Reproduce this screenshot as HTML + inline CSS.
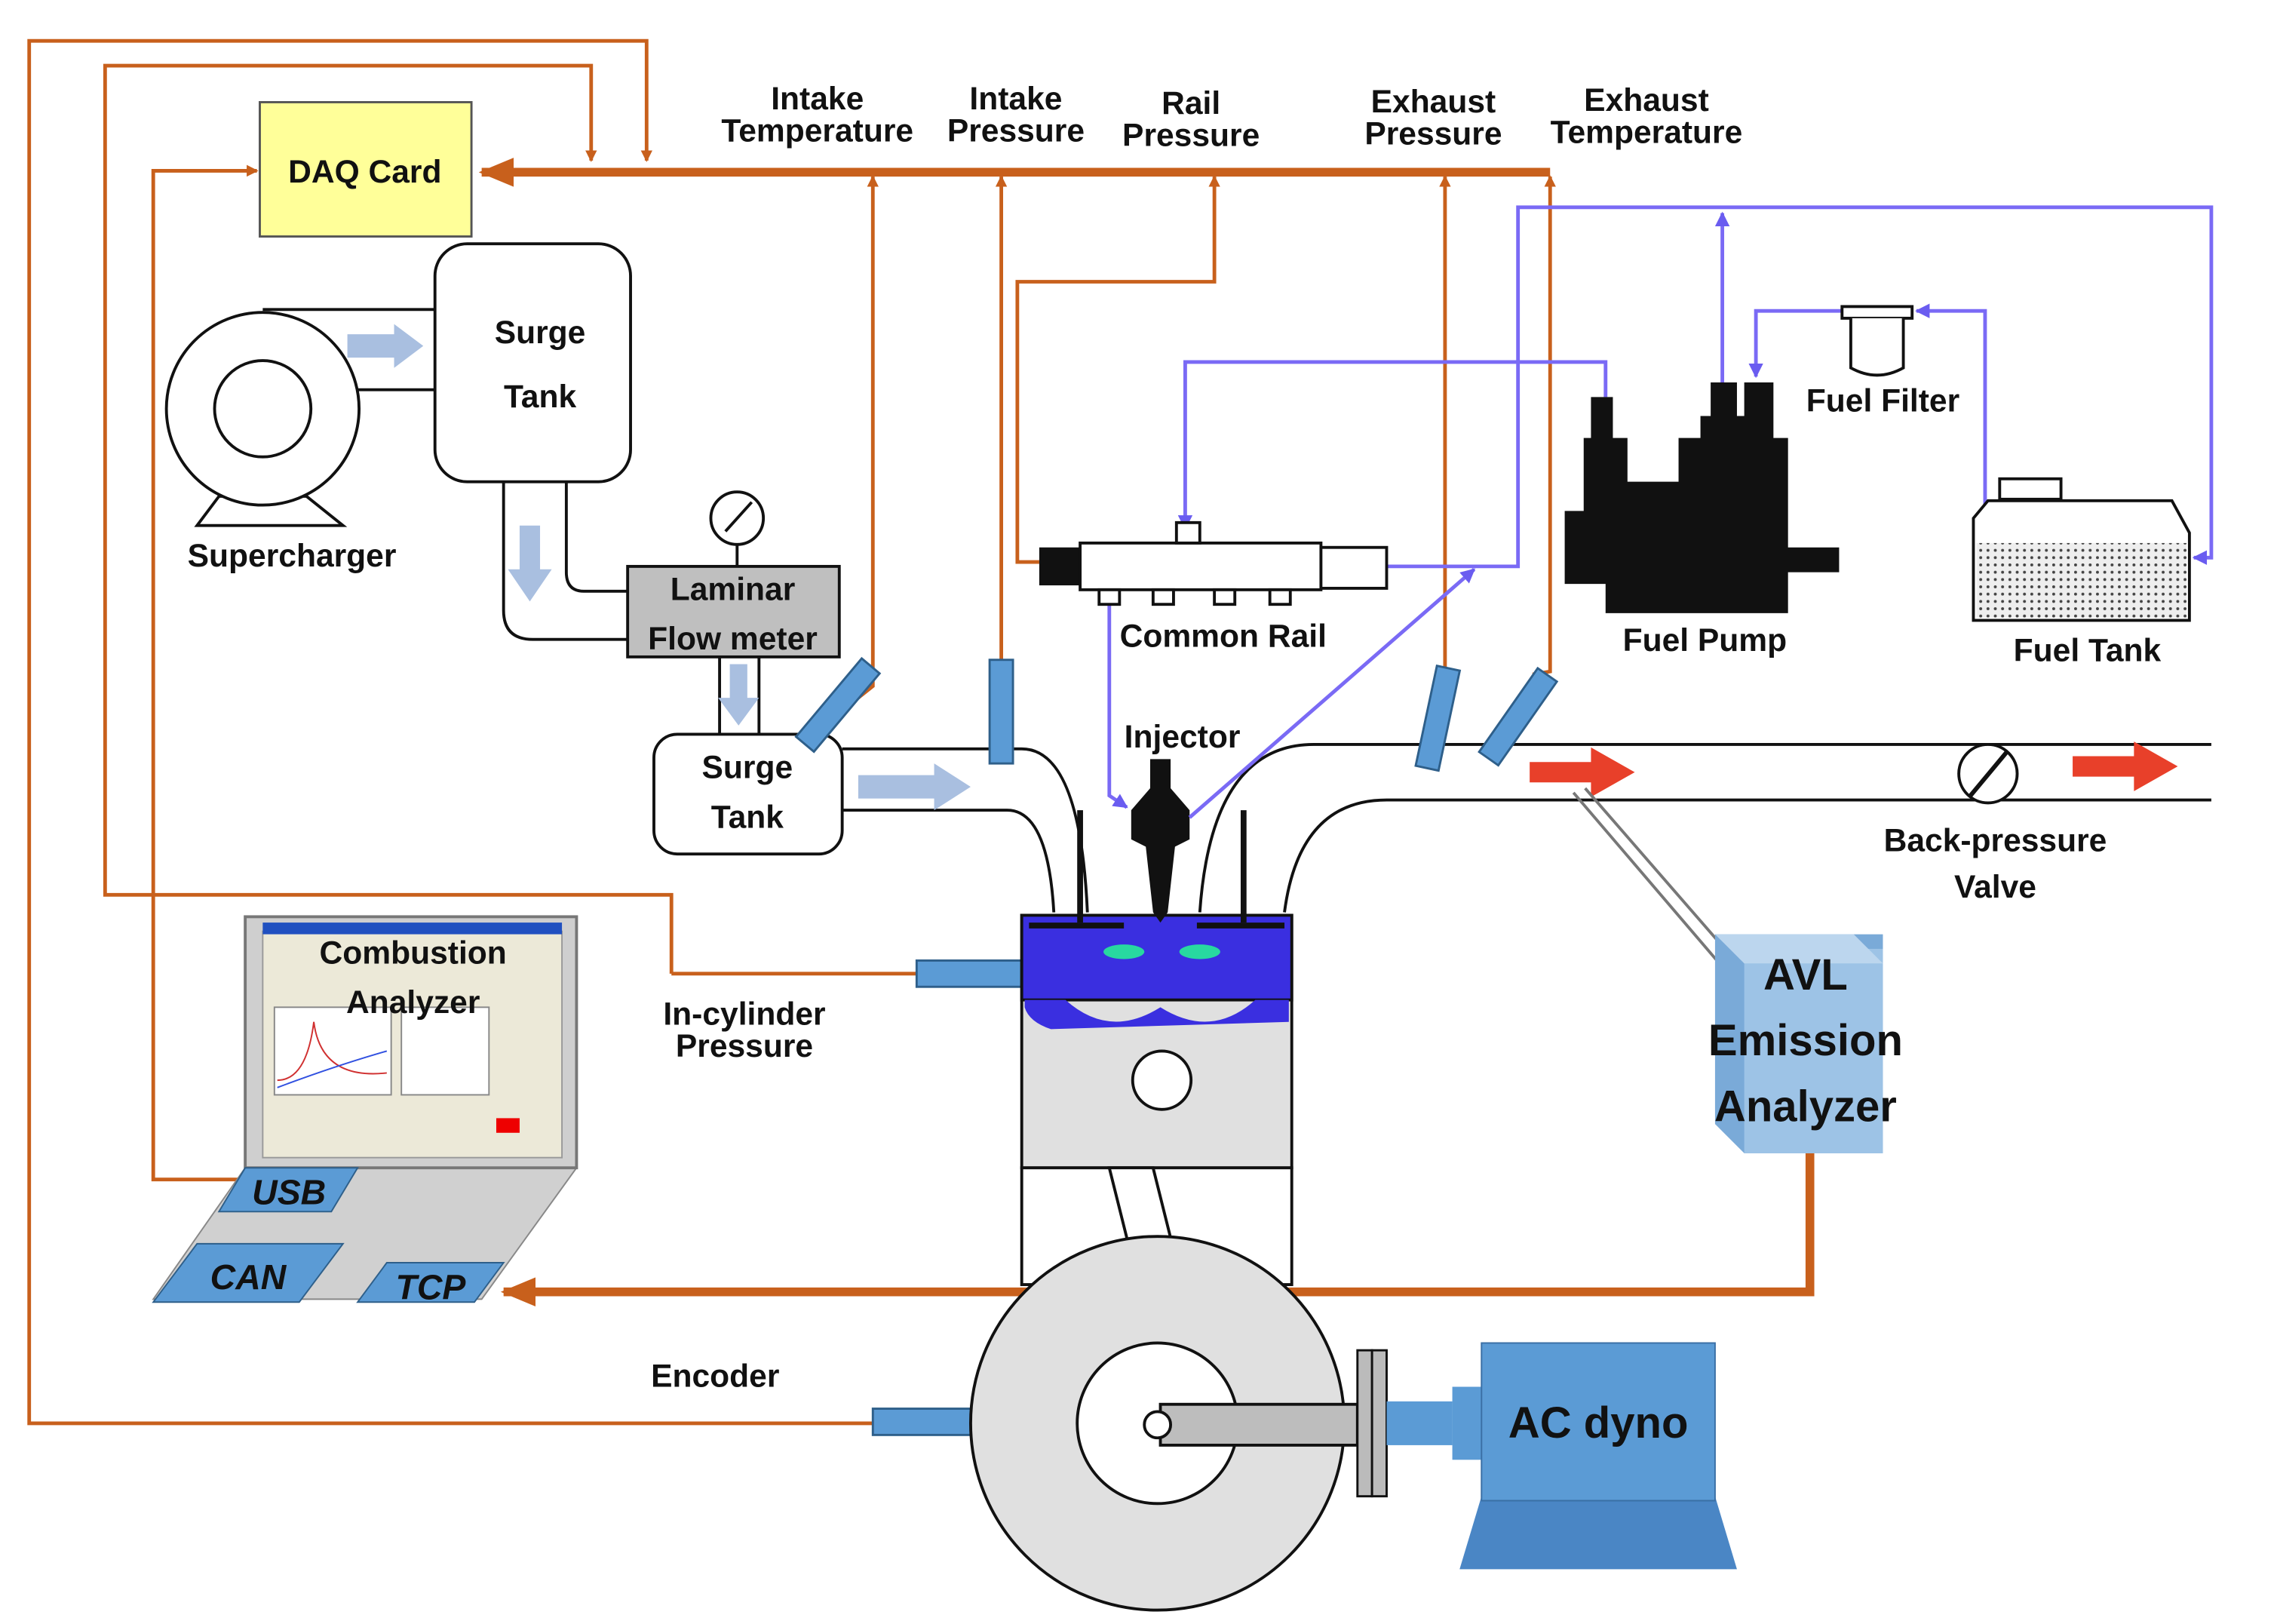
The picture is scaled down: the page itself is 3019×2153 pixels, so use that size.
<!DOCTYPE html>
<html><head><meta charset="utf-8"><style>
html,body{margin:0;padding:0;background:#fff;}
svg{display:block;}
text{font-family:"Liberation Sans",sans-serif;font-weight:bold;fill:#111;}
</style></head><body>
<svg width="3019" height="2153" viewBox="0 0 1560 1112.5" preserveAspectRatio="none" xmlns="http://www.w3.org/2000/svg">
<defs>
<marker id="ao" markerWidth="8" markerHeight="8" refX="7" refY="4" orient="auto" markerUnits="userSpaceOnUse"><path d="M0,0 L8,4 L0,8 z" fill="#c8601c"/></marker>
<marker id="aoB" markerWidth="24" markerHeight="20" refX="22" refY="10" orient="auto" markerUnits="userSpaceOnUse"><path d="M0,0 L24,10 L0,20 z" fill="#c8601c"/></marker>
<marker id="ap" markerWidth="10" markerHeight="10" refX="9" refY="5" orient="auto" markerUnits="userSpaceOnUse"><path d="M0,0 L10,5 L0,10 z" fill="#6a5cf0"/></marker>
<pattern id="dots" width="5" height="5" patternUnits="userSpaceOnUse"><rect width="5" height="5" fill="#eee"/><circle cx="2" cy="2" r="1" fill="#444"/></pattern>
</defs>
<g fill="none" stroke="#c8601c" stroke-width="2.5">
<polyline points="598,975 20,975 20,28 443,28 443,110" marker-end="url(#ao)"/>
<polyline points="460,667 460,613 72,613 72,45 405,45 405,110" marker-end="url(#ao)"/>
<line x1="460" y1="667" x2="628" y2="667"/>
<polyline points="170,808 105,808 105,117 176,117" marker-end="url(#ao)"/>
<polyline points="588,478 598,470 598,121" marker-end="url(#ao)"/>
<line x1="686" y1="455" x2="686" y2="121" marker-end="url(#ao)"/>
<polyline points="712,385 697,385 697,193 832,193 832,121" marker-end="url(#ao)"/>
<line x1="990" y1="458" x2="990" y2="121" marker-end="url(#ao)"/>
<polyline points="1050,462 1062,460 1062,121" marker-end="url(#ao)"/>
</g>
<line x1="1062" y1="118" x2="330" y2="118" stroke="#c8601c" stroke-width="6" marker-end="url(#aoB)"/>
<polyline points="1240,790 1240,885 345,885" fill="none" stroke="#c8601c" stroke-width="6" marker-end="url(#aoB)"/>
<rect x="178" y="70" width="145" height="92" fill="#ffff99" stroke="#555" stroke-width="1.5"/>
<text x="250" y="125" font-size="22" text-anchor="middle" font-weight="normal">DAQ Card</text>
<g font-size="22" text-anchor="middle">
<text x="560" y="75">Intake</text><text x="560" y="97">Temperature</text>
<text x="696" y="75">Intake</text><text x="696" y="97">Pressure</text>
<text x="816" y="78">Rail</text><text x="816" y="100">Pressure</text>
<text x="982" y="77">Exhaust</text><text x="982" y="99">Pressure</text>
<text x="1128" y="76">Exhaust</text><text x="1128" y="98">Temperature</text>
</g>
<!-- supercharger -->
<g stroke="#111" stroke-width="2" fill="#fff">
<line x1="180" y1="212" x2="300" y2="212"/><line x1="180" y1="267" x2="300" y2="267"/>
<path d="M150,340 L135,360 L235,360 L210,340 z"/>
<circle cx="180" cy="280" r="66"/><circle cx="180" cy="280" r="33"/>
<rect x="298" y="167" width="134" height="163" rx="22"/>
<path d="M345,330 L345,418 Q345,438 365,438 L432,438" fill="none"/>
<path d="M388,330 L388,392 Q388,405 400,405 L432,405" fill="none"/>
<line x1="505" y1="373" x2="505" y2="388"/>
<circle cx="505" cy="355" r="18"/><line x1="497" y1="364" x2="515" y2="344"/>
<rect x="430" y="388" width="145" height="62" fill="#bfbfbf"/>
<line x1="493" y1="450" x2="493" y2="505"/><line x1="520" y1="450" x2="520" y2="505"/>
<path d="M577,513 L700,513 Q740,513 745,625" fill="none"/>
<path d="M577,555 L690,555 Q718,555 722,625" fill="none"/>
<rect x="448" y="503" width="129" height="82" rx="16"/>
</g>
<g fill="#a9bfe0">
<path d="M238,229 L270,229 L270,222 L290,237 L270,252 L270,245 L238,245z"/>
<path d="M356,360 L370,360 L370,390 L378,390 L363,412 L348,390 L356,390z"/>
<path d="M500,455 L512,455 L512,478 L520,478 L506,497 L492,478 L500,478z"/>
<path d="M588,531 L640,531 L640,523 L665,539 L640,555 L640,547 L588,547z"/>
</g>
<g font-size="22" text-anchor="middle">
<text x="370" y="235">Surge</text><text x="370" y="279">Tank</text>
<text x="200" y="388">Supercharger</text>
<text x="502" y="411">Laminar</text><text x="502" y="445">Flow meter</text>
<text x="512" y="533">Surge</text><text x="512" y="567">Tank</text>
<text x="510" y="702">In-cylinder</text><text x="510" y="724">Pressure</text>
<text x="490" y="950">Encoder</text>
<text x="1367" y="583">Back-pressure</text><text x="1367" y="615">Valve</text>
<text x="810" y="512">Injector</text>
<text x="838" y="443">Common Rail</text>
<text x="1168" y="446">Fuel Pump</text>
<text x="1290" y="282">Fuel Filter</text>
<text x="1430" y="453">Fuel Tank</text>
</g>
<!-- exhaust -->
<g fill="none" stroke="#111" stroke-width="2">
<path d="M822,625 Q830,510 900,510 L1515,510"/>
<path d="M880,625 Q890,548 950,548 L1515,548"/>
</g>
<circle cx="1362" cy="530" r="20" fill="#fff" stroke="#111" stroke-width="2"/>
<line x1="1350" y1="545" x2="1375" y2="515" stroke="#111" stroke-width="3"/>
<path d="M1048,522 L1090,522 L1090,512 L1120,529 L1090,546 L1090,536 L1048,536z" fill="#e8402a"/>
<path d="M1420,518 L1462,518 L1462,508 L1492,525 L1462,542 L1462,532 L1420,532z" fill="#e8402a"/>
<path d="M1078,543 L1178,660 M1086,540 L1186,655" stroke="#777" stroke-width="2"/>
<!-- sensors -->
<g fill="#5b9bd5" stroke="#2e5f8a" stroke-width="1.5">
<rect x="566" y="448" width="16" height="70" transform="rotate(40 574 483)"/>
<rect x="678" y="452" width="16" height="71"/>
<rect x="977" y="457" width="16" height="70" transform="rotate(12 985 492)"/>
<rect x="1032" y="456" width="16" height="70" transform="rotate(35 1040 491)"/>
<rect x="628" y="658" width="72" height="18"/>
<rect x="598" y="965" width="72" height="18"/>
</g>
<!-- engine -->
<rect x="700" y="627" width="185" height="173" fill="#e0e0e0" stroke="#111" stroke-width="2"/>
<rect x="700" y="800" width="185" height="80" fill="#fff" stroke="#111" stroke-width="2"/>
<rect x="700" y="627" width="185" height="58" fill="#3a2fe0" stroke="#111" stroke-width="2"/>
<path d="M702,685 L730,685 Q760,712 795,690 Q830,712 860,685 L883,685 L883,700 L720,705 Q705,700 702,690z" fill="#3a2fe0"/>
<ellipse cx="770" cy="652" rx="14" ry="5" fill="#28d8a0"/><ellipse cx="822" cy="652" rx="14" ry="5" fill="#28d8a0"/>
<path d="M760,800 L775,860 L805,860 L790,800z" fill="#fff" stroke="#111" stroke-width="2"/>
<circle cx="796" cy="740" r="20" fill="#fff" stroke="#111" stroke-width="2"/>
<line x1="740" y1="555" x2="740" y2="632" stroke="#111" stroke-width="4"/>
<line x1="852" y1="555" x2="852" y2="632" stroke="#111" stroke-width="4"/>
<path d="M705,634 L770,634 M820,634 L880,634" stroke="#111" stroke-width="4"/>
<path d="M788,520 L802,520 L802,540 L815,555 L815,575 L805,580 L800,625 L795,632 L790,625 L785,580 L775,575 L775,555 L788,540z" fill="#111"/>
<circle cx="793" cy="975" r="128" fill="#e0e0e0" stroke="#111" stroke-width="2"/>
<circle cx="793" cy="975" r="55" fill="#fff" stroke="#111" stroke-width="2"/>
<rect x="795" y="962" width="135" height="28" fill="#bdbdbd" stroke="#111" stroke-width="2"/>
<circle cx="793" cy="976" r="9" fill="#fff" stroke="#111" stroke-width="2"/>
<rect x="930" y="925" width="10" height="100" fill="#bbb" stroke="#111" stroke-width="1.5"/>
<rect x="940" y="925" width="10" height="100" fill="#bbb" stroke="#111" stroke-width="1.5"/>
<rect x="950" y="960" width="45" height="30" fill="#5b9bd5"/>
<rect x="995" y="950" width="20" height="50" fill="#5b9bd5"/>
<path d="M1000,1075 L1015,1025 L1175,1025 L1190,1075z" fill="#4a86c5"/>
<rect x="1015" y="920" width="160" height="108" fill="#5b9bd5" stroke="#3a6fa5"/>
<text x="1095" y="985" font-size="30" text-anchor="middle" font-weight="normal">AC dyno</text>
<!-- AVL -->
<path d="M1175,640 L1195,640 L1290,640 L1290,790 L1195,790 L1175,770z" fill="#7aaad8"/>
<rect x="1195" y="650" width="95" height="140" fill="#9dc3e6"/>
<path d="M1175,640 L1270,640 L1290,660 L1195,660z" fill="#bcd6ee"/>
<g font-size="30" text-anchor="middle"><text x="1237" y="678">AVL</text><text x="1237" y="723">Emission</text><text x="1237" y="768">Analyzer</text></g>
<!-- laptop -->
<path d="M105,890 L168,800 L395,800 L330,890z" fill="#d0d0d0" stroke="#888"/>
<rect x="168" y="628" width="227" height="172" fill="#cfcfcf" stroke="#777" stroke-width="2"/>
<rect x="180" y="638" width="205" height="155" fill="#ece9d8" stroke="#999"/>
<rect x="180" y="632" width="205" height="8" fill="#2050c0"/>
<rect x="188" y="690" width="80" height="60" fill="#fff" stroke="#888"/>
<path d="M190,740 Q210,740 215,700 Q220,740 265,735" fill="none" stroke="#d03030"/>
<path d="M190,745 Q230,730 265,720" fill="none" stroke="#3050e0"/>
<rect x="275" y="690" width="60" height="60" fill="#fff" stroke="#888"/>
<rect x="340" y="766" width="16" height="10" fill="#e00"/>
<text x="283" y="660" font-size="22" text-anchor="middle">Combustion</text>
<text x="283" y="694" font-size="22" text-anchor="middle">Analyzer</text>
<g fill="#5b9bd5" stroke="#2e5f8a">
<path d="M150,830 L168,800 L245,800 L227,830z"/>
<path d="M105,892 L135,852 L235,852 L205,892z"/>
<path d="M245,892 L265,865 L345,865 L325,892z"/>
</g>
<g font-size="24" font-style="italic" text-anchor="middle">
<text x="198" y="825">USB</text><text x="170" y="883">CAN</text><text x="295" y="890">TCP</text>
</g>
<!-- fuel system purple -->
<g fill="none" stroke="#7a6af5" stroke-width="2.5">
<polyline points="1100,272 1100,248 812,248 812,362" marker-end="url(#ap)"/>
<polyline points="950,388 1040,388 1040,142 1515,142 1515,382 1503,382" marker-end="url(#ap)"/>
<line x1="1180" y1="262" x2="1180" y2="146" marker-end="url(#ap)"/>
<polyline points="1360,400 1360,213 1313,213" marker-end="url(#ap)"/>
<polyline points="1262,213 1203,213 1203,258" marker-end="url(#ap)"/>
<polyline points="760,408 760,545 772,553" marker-end="url(#ap)"/>
<line x1="815" y1="560" x2="1010" y2="390" marker-end="url(#ap)"/>
</g>
<!-- common rail -->
<rect x="712" y="375" width="30" height="26" fill="#111"/>
<rect x="740" y="372" width="165" height="32" fill="#fff" stroke="#111" stroke-width="2"/>
<rect x="905" y="375" width="45" height="28" fill="#fff" stroke="#111" stroke-width="2"/>
<rect x="806" y="358" width="16" height="14" fill="#fff" stroke="#111" stroke-width="2"/>
<g fill="#fff" stroke="#111" stroke-width="2">
<rect x="753" y="404" width="14" height="10"/><rect x="790" y="404" width="14" height="10"/><rect x="832" y="404" width="14" height="10"/><rect x="870" y="404" width="14" height="10"/>
</g>
<!-- fuel pump -->
<path d="M1090,272 L1105,272 L1105,300 L1115,300 L1115,330 L1150,330 L1150,300 L1165,300 L1165,285 L1172,285 L1172,262 L1190,262 L1190,285 L1195,285 L1195,262 L1215,262 L1215,300 L1225,300 L1225,375 L1260,375 L1260,392 L1225,392 L1225,420 L1100,420 L1100,400 L1072,400 L1072,350 L1085,350 L1085,300 L1090,300z" fill="#111"/>
<!-- filter -->
<rect x="1262" y="210" width="48" height="8" fill="#fff" stroke="#111" stroke-width="2"/>
<path d="M1268,218 L1268,252 Q1286,262 1304,252 L1304,218" fill="#fff" stroke="#111" stroke-width="2"/>
<!-- tank -->
<rect x="1370" y="328" width="42" height="14" fill="#fff" stroke="#111" stroke-width="2"/>
<path d="M1352,425 L1352,355 L1362,343 L1488,343 L1500,365 L1500,425z" fill="#fff" stroke="#111" stroke-width="2"/>
<rect x="1354" y="372" width="144" height="51" fill="url(#dots)"/>
</svg>
</body></html>
